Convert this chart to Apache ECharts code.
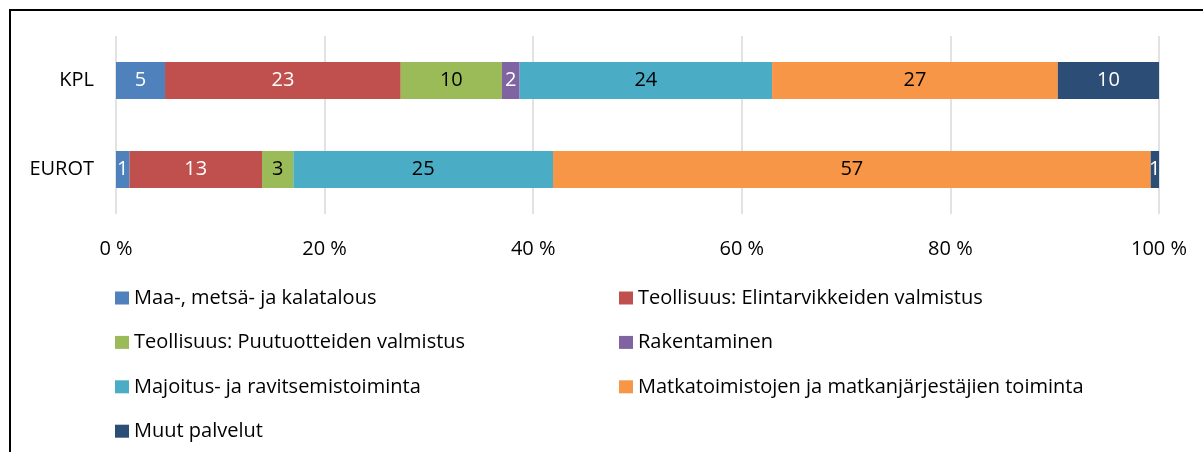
<!DOCTYPE html>
<html>
<head>
<meta charset="utf-8">
<script src="https://cdn.jsdelivr.net/npm/echarts@6/dist/echarts.min.js"></script>
<style>
  html, body { margin: 0; padding: 0; background: #fff; }
  #frame { position: absolute; left: 9px; top: 9px; width: 1200px; height: 460px; border: 2px solid #000; box-sizing: border-box; }
  #echart { position: absolute; left: 0; top: 0; width: 1203px; height: 452px; }
</style>
</head>
<body>
<div id="frame"></div>
<div id="echart"></div>
<script>
// rivit (ylhäältä alas)
var categories = ['KPL', 'EUROT'];

// toimialat
var seriesNames = [
    'Maa-, metsä- ja kalatalous',
    'Teollisuus: Elintarvikkeiden valmistus',
    'Teollisuus: Puutuotteiden valmistus',
    'Rakentaminen',
    'Majoitus- ja ravitsemistoiminta',
    'Matkatoimistojen ja matkanjärjestäjien toiminta',
    'Muut palvelut'
];

// osuudet prosentteina, [KPL, EUROT]
var maatalous = [4.7, 1.3];
var elintarvike = [22.6, 12.7];
var puutuote = [9.7, 3.0];
var rakentaminen = [1.7, 0];
var majoitus = [24.2, 24.9];
var matkatoimisto = [27.4, 57.3];
var muut = [9.7, 0.8];

var xTicks = ['0 %', '20 %', '40 %', '60 %', '80 %', '100 %'];

var colors = ['#4F81BD', '#C0504D', '#9BBB59', '#8064A2', '#4BACC6', '#F79646', '#2C4D75'];
var labelColors = ['#fff', '#fff', '#000', '#fff', '#000', '#000', '#fff'];
var values = [maatalous, elintarvike, puutuote, rakentaminen, majoitus, matkatoimisto, muut];

var font = '"Open Sans", sans-serif';
var fsize = 20;

var myChart = echarts.init(document.getElementById('echart'));

var series = seriesNames.map(function (name, i) {
    return {
        name: name,
        type: 'bar',
        stack: 'total',
        barWidth: 37,
        data: values[i],
        itemStyle: { color: colors[i] },
        label: {
            show: true,
            position: 'inside',
            color: labelColors[i],
            fontFamily: font,
            fontSize: fsize,
            formatter: function (p) {
                var v = Math.round(p.value);
                return v === 0 ? '' : String(v);
            }
        }
    };
});

var legendBase = {
    orient: 'vertical',
    itemWidth: 14,
    itemHeight: 13,
    itemGap: 24.4,
    icon: 'rect',
    textStyle: { fontFamily: font, fontSize: fsize, lineHeight: 20, color: '#000' }
};

var option = {
    animation: false,
    grid: { left: 116, right: 44, top: 36, height: 178 },
    legend: [
        Object.assign({}, legendBase, {
            left: 110, top: 283,
            data: [seriesNames[0], seriesNames[2], seriesNames[4], seriesNames[6]]
        }),
        Object.assign({}, legendBase, {
            left: 614, top: 283,
            data: [seriesNames[1], seriesNames[3], seriesNames[5]]
        })
    ],
    xAxis: {
        type: 'value',
        min: 0,
        max: 100,
        interval: 20,
        axisLine: { show: false },
        axisTick: { show: false },
        splitLine: { lineStyle: { color: '#D9D9D9', width: 1.5 } },
        axisLabel: {
            margin: 25,
            fontFamily: font,
            fontSize: fsize,
            color: '#000',
            formatter: function (v) { return xTicks[v / 20]; }
        }
    },
    yAxis: {
        type: 'category',
        inverse: true,
        data: categories,
        axisLine: { show: false },
        axisTick: { show: false },
        axisLabel: { margin: 22, fontFamily: font, fontSize: fsize, color: '#000' }
    },
    series: series
};

myChart.setOption(option);
</script>
</body>
</html>
